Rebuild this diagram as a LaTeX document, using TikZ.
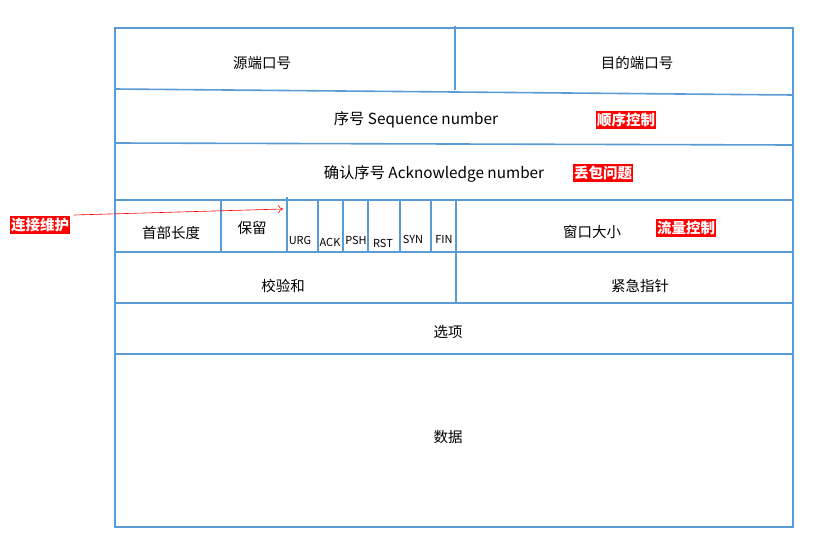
\documentclass[tikz,border=0pt]{standalone}
\usepackage{fontspec}
\setmainfont{Noto Sans CJK SC}
\usetikzlibrary{arrows.meta}
\definecolor{grid}{HTML}{5B9BD5}
\begin{document}
\begin{tikzpicture}[x=1pt,y=-1pt,
  cell/.style={draw=grid,line width=1.6pt},
  lbl/.style={font=\fontsize{14.5}{16}\selectfont,inner sep=0pt},
  wide/.style={font=\fontsize{15.3}{17}\selectfont,inner sep=0pt},
  flag/.style={font=\fontsize{11}{13}\selectfont,inner sep=0pt},
  tag/.style={fill=red,text=white,font=\fontsize{14.5}{16}\selectfont\bfseries,inner xsep=1pt,inner ysep=2pt}]
\useasboundingbox (0,0) rectangle (827,549);
% frame and row separators
\draw[cell] (115,28) rectangle (793,527);
\draw[cell] (115,89) -- (793,95);
\draw[cell] (115,143) -- (793,145);
\draw[cell] (115,200) -- (793,200);
\draw[cell] (115,252) -- (793,252);
\draw[cell] (115,303) -- (793,303);
\draw[cell] (115,354) -- (793,354);
% column separators
\draw[cell] (455,26) -- (455,90);
\draw[cell] (221,200) -- (221,252);
\draw[cell] (287,197) -- (287,252);
\foreach \x in {318,343,368,400,431} \draw[cell] (\x,200) -- (\x,252);
\draw[cell] (456,200) -- (456,303);
% field names
\node[lbl] (src)  at (262,63)  {源端口号};
\node[lbl] (dst)  at (637,63)  {目的端口号};
\node[wide] (seq) at (416,120) {序号 Sequence number};
\node[wide] (ack) at (434,174) {确认序号 Acknowledge number};
\node[lbl] (hlen) at (171,233) {首部长度};
\node[lbl] (rsv)  at (252,228) {保留};
\node[flag] (urg) at (300,240) {URG};
\node[flag] (ackf) at (330,242) {ACK};
\node[flag] (psh) at (356,240) {PSH};
\node[flag] (rst) at (383,243) {RST};
\node[flag] (syn) at (413,239) {SYN};
\node[flag] (fin) at (444,239) {FIN};
\node[lbl] (win)  at (592,232) {窗口大小};
\node[lbl] (chk)  at (283,286) {校验和};
\node[lbl] (urgp) at (640,286) {紧急指针};
\node[lbl] (opt)  at (448,332) {选项};
\node[lbl] (data) at (448,437) {数据};
% purpose tags
\node[tag] (order) at (626,120) {顺序控制};
\node[tag] (loss)  at (603,173) {丢包问题};
\node[tag] (flow)  at (686,228) {流量控制};
\node[tag] (conn)  at (40,225)  {连接维护};
\coordinate (flagsin) at (283,209);
\draw[red,line width=0.6pt,-{To[length=5pt,width=8pt]}] (conn.east)+(4,-10) -- (flagsin);
\end{tikzpicture}
\end{document}
